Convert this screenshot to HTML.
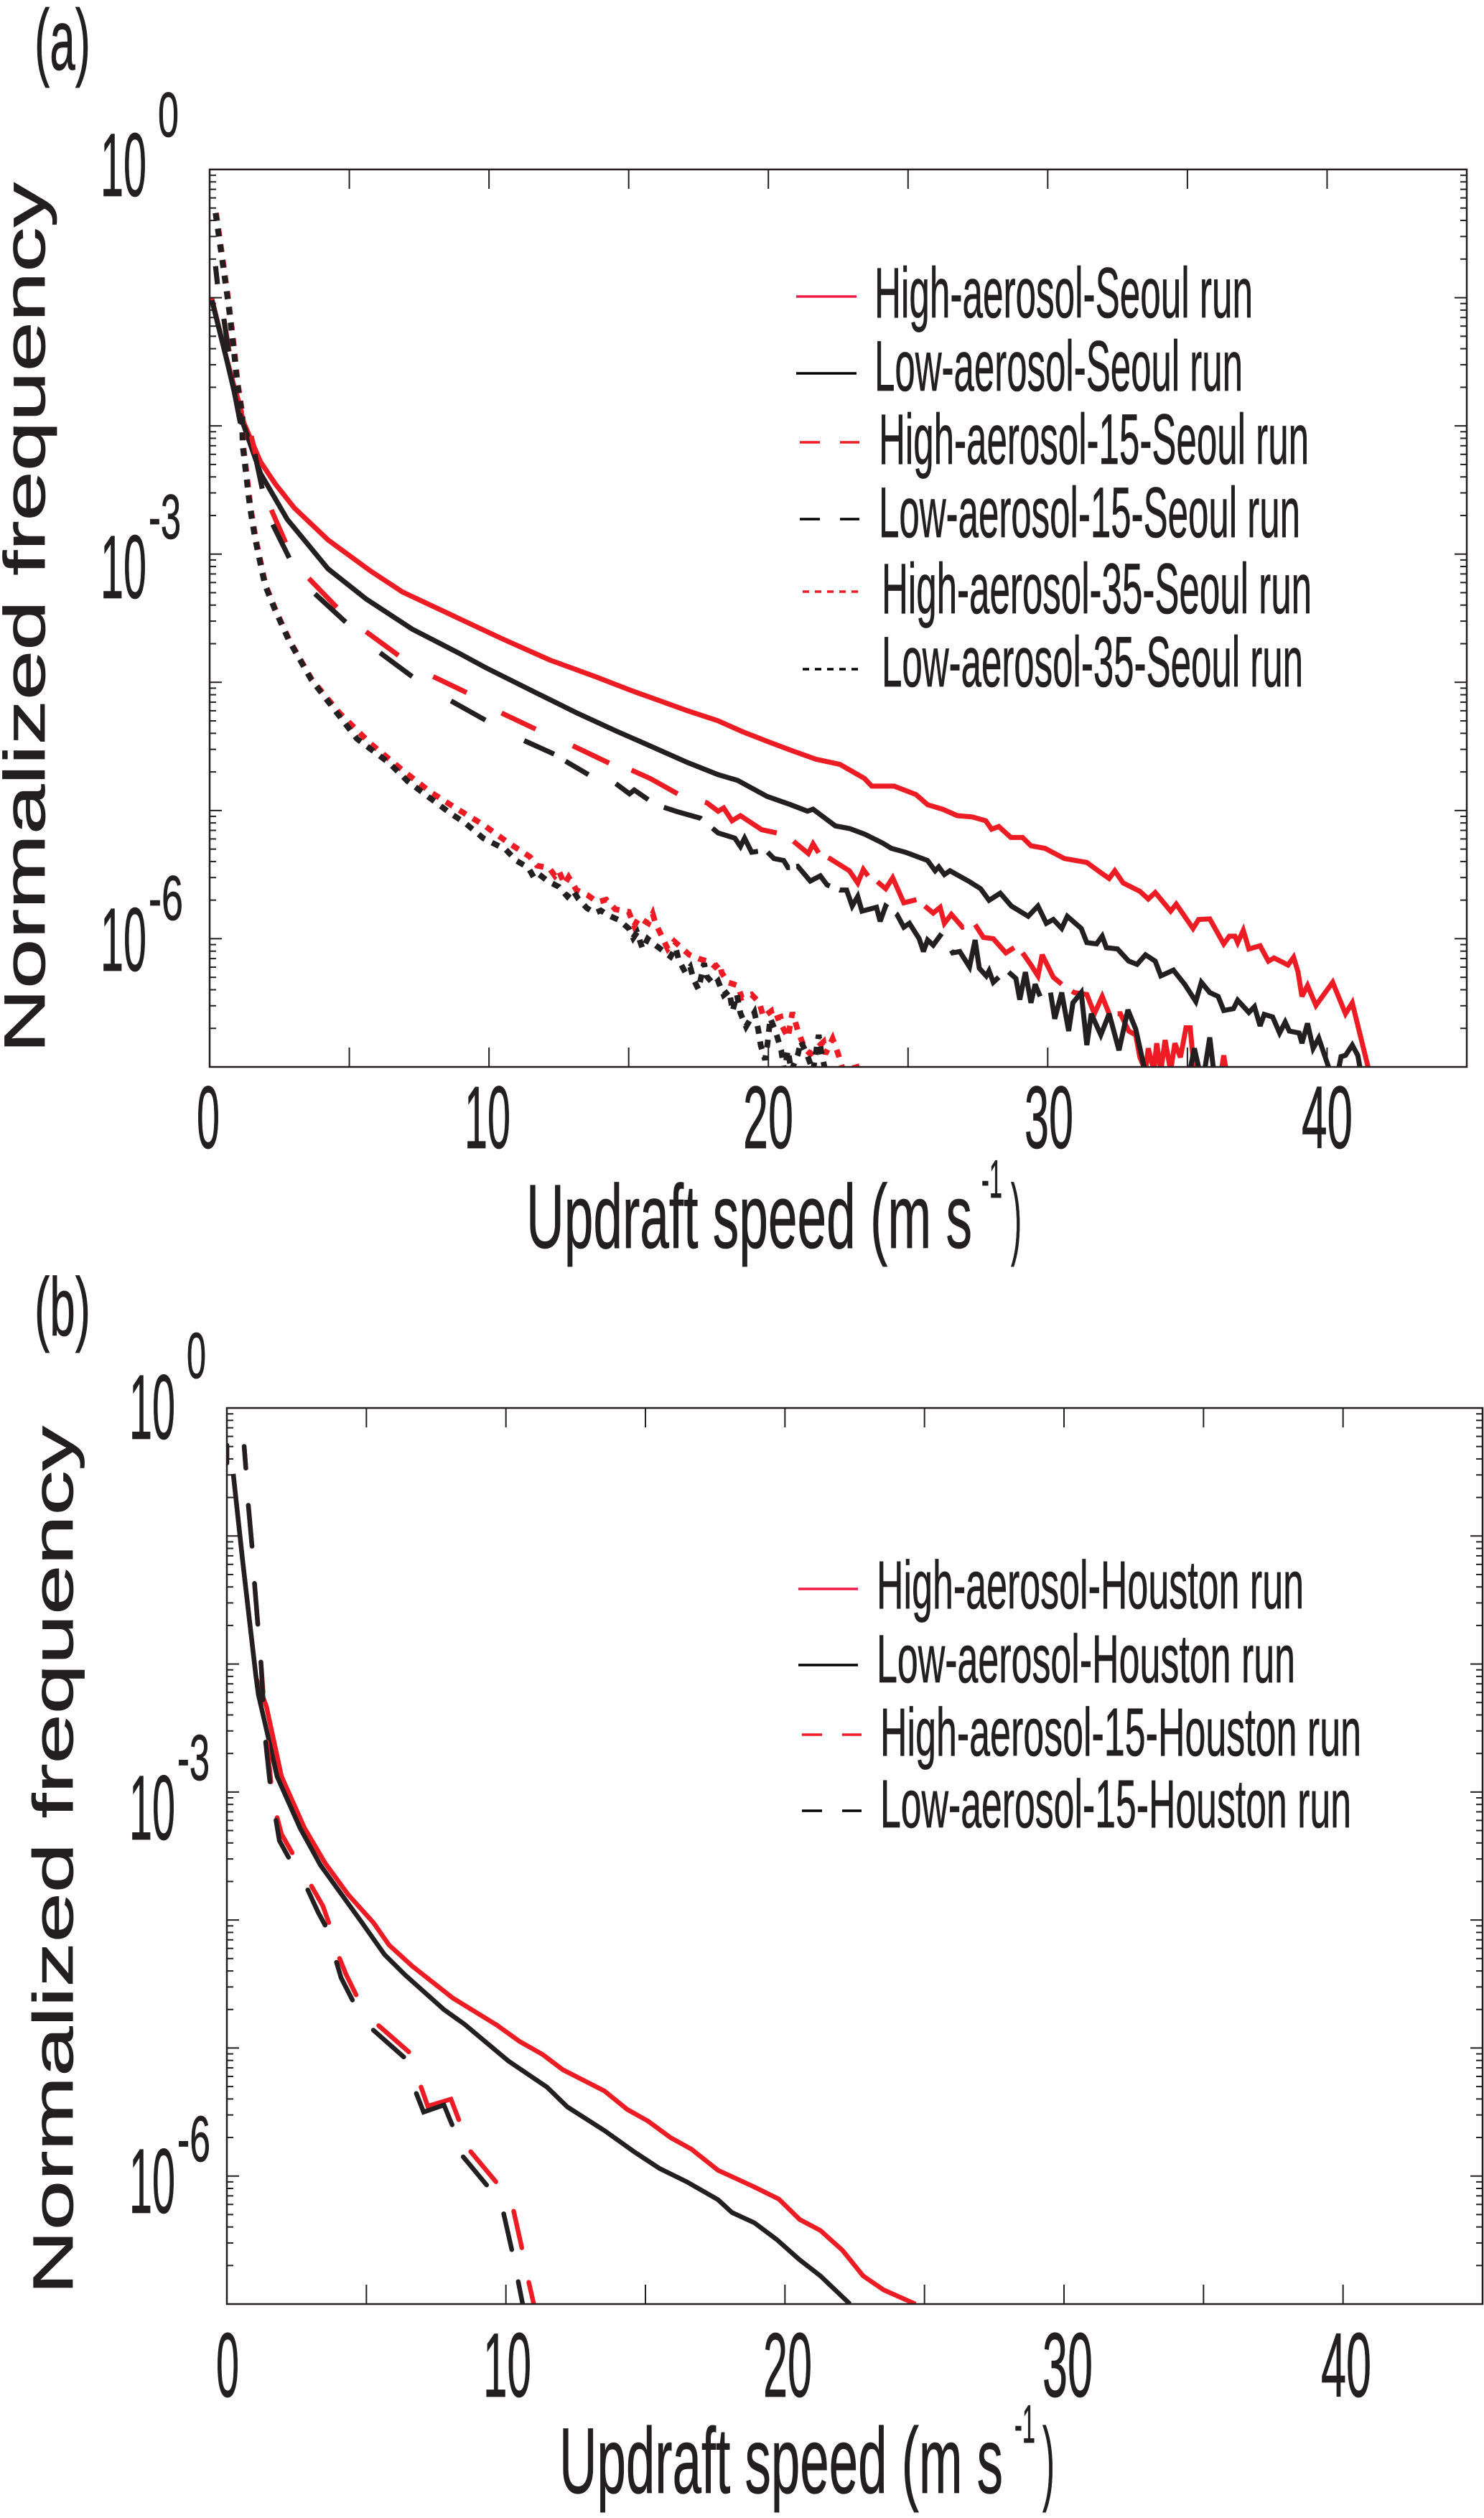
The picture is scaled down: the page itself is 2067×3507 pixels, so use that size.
<!DOCTYPE html>
<html lang="en">
<head>
<meta charset="utf-8">
<title>Updraft speed frequency distributions</title>
<style>
html,body{margin:0;padding:0;background:#fff;}
svg{display:block;}
text{font-family:"Liberation Sans",sans-serif;fill:#231F20;stroke:#231F20;stroke-width:0.8;}
</style>
</head>
<body>
<svg id="figure" xmlns="http://www.w3.org/2000/svg" width="2067" height="3507" viewBox="0 0 2067 3507">
  <rect x="0" y="0" width="2067" height="3507" fill="#fff"/>
  <defs>
    <clipPath id="clip-a"><rect x="292" y="236" width="1751" height="1250"/></clipPath>
    <clipPath id="clip-b"><rect x="316" y="1961" width="1749" height="1248"/></clipPath>
  </defs>

  <!-- Panel (a) static text -->
  <g>
    <text x="48" y="97" font-size="120" textLength="78" lengthAdjust="spacingAndGlyphs">(a)</text>
    <text transform="translate(62,1467) rotate(-90)" font-size="81" textLength="1213" lengthAdjust="spacingAndGlyphs">Normalized frequency</text>

    <g>
      <text x="140" y="273" font-size="125" textLength="64" lengthAdjust="spacingAndGlyphs">10</text>
      <text x="220" y="190" font-size="88" textLength="29" lengthAdjust="spacingAndGlyphs">0</text>
      <text x="140" y="833" font-size="125" textLength="64" lengthAdjust="spacingAndGlyphs">10</text>
      <text x="207" y="750" font-size="88" textLength="45" lengthAdjust="spacingAndGlyphs">-3</text>
      <text x="140" y="1352" font-size="125" textLength="64" lengthAdjust="spacingAndGlyphs">10</text>
      <text x="207" y="1281" font-size="88" textLength="48" lengthAdjust="spacingAndGlyphs">-6</text>
    </g>

    <g>
      <text x="274" y="1599" font-size="123" textLength="32" lengthAdjust="spacingAndGlyphs">0</text>
      <text x="647" y="1599" font-size="123" textLength="64" lengthAdjust="spacingAndGlyphs">10</text>
      <text x="1035" y="1599" font-size="123" textLength="70" lengthAdjust="spacingAndGlyphs">20</text>
      <text x="1427" y="1599" font-size="123" textLength="68" lengthAdjust="spacingAndGlyphs">30</text>
      <text x="1813" y="1599" font-size="123" textLength="71" lengthAdjust="spacingAndGlyphs">40</text>
    </g>

    <g>
      <text x="733" y="1738" font-size="126" textLength="621" lengthAdjust="spacingAndGlyphs">Updraft speed (m s</text>
      <text x="1367" y="1668" font-size="75" textLength="29" lengthAdjust="spacingAndGlyphs">-1</text>
      <text x="1408" y="1738" font-size="126" textLength="15" lengthAdjust="spacingAndGlyphs">)</text>
    </g>

    <g>
      <line x1="1109" x2="1193" y1="413" y2="413" stroke="#EF1C45" stroke-width="3.5"/>
      <text x="1218" y="442" font-size="99" textLength="527" lengthAdjust="spacingAndGlyphs">High-aerosol-Seoul run</text>
      <line x1="1109" x2="1193" y1="520" y2="520" stroke="#000" stroke-width="3.5"/>
      <text x="1218" y="544" font-size="99" textLength="513" lengthAdjust="spacingAndGlyphs">Low-aerosol-Seoul run</text>
      <line x1="1114" x2="1197" y1="616" y2="616" stroke="#ED1C24" stroke-width="3.5" stroke-dasharray="28 28"/>
      <text x="1224" y="646" font-size="99" textLength="599" lengthAdjust="spacingAndGlyphs">High-aerosol-15-Seoul run</text>
      <line x1="1114" x2="1197" y1="723" y2="723" stroke="#000" stroke-width="3.5" stroke-dasharray="28 28"/>
      <text x="1224" y="748" font-size="99" textLength="587" lengthAdjust="spacingAndGlyphs">Low-aerosol-15-Seoul run</text>
      <line x1="1118" x2="1202" y1="824" y2="824" stroke="#ED1C24" stroke-width="3.5" stroke-dasharray="9 8"/>
      <text x="1228" y="854" font-size="99" textLength="599" lengthAdjust="spacingAndGlyphs">High-aerosol-35-Seoul run</text>
      <line x1="1118" x2="1202" y1="932" y2="932" stroke="#000" stroke-width="3.5" stroke-dasharray="9 8"/>
      <text x="1228" y="956" font-size="99" textLength="587" lengthAdjust="spacingAndGlyphs">Low-aerosol-35-Seoul run</text>
    </g>
    <g id="plot-a"></g>
  </g>

  <!-- Panel (b) static text -->
  <g>
    <text x="48" y="1860" font-size="115" textLength="78" lengthAdjust="spacingAndGlyphs">(b)</text>
    <text transform="translate(101,3196) rotate(-90)" font-size="79" textLength="1210" lengthAdjust="spacingAndGlyphs">Normalized frequency</text>

    <g>
      <text x="180" y="2004" font-size="128" textLength="64" lengthAdjust="spacingAndGlyphs">10</text>
      <text x="260" y="1919" font-size="90" textLength="27" lengthAdjust="spacingAndGlyphs">0</text>
      <text x="180" y="2562" font-size="128" textLength="64" lengthAdjust="spacingAndGlyphs">10</text>
      <text x="247" y="2479" font-size="90" textLength="45" lengthAdjust="spacingAndGlyphs">-3</text>
      <text x="180" y="3082" font-size="128" textLength="64" lengthAdjust="spacingAndGlyphs">10</text>
      <text x="247" y="3010" font-size="90" textLength="46" lengthAdjust="spacingAndGlyphs">-6</text>
    </g>

    <g>
      <text x="301" y="3338" font-size="127" textLength="32" lengthAdjust="spacingAndGlyphs">0</text>
      <text x="673" y="3338" font-size="127" textLength="67" lengthAdjust="spacingAndGlyphs">10</text>
      <text x="1063" y="3338" font-size="127" textLength="68" lengthAdjust="spacingAndGlyphs">20</text>
      <text x="1452" y="3338" font-size="127" textLength="70" lengthAdjust="spacingAndGlyphs">30</text>
      <text x="1840" y="3338" font-size="127" textLength="70" lengthAdjust="spacingAndGlyphs">40</text>
    </g>

    <g>
      <text x="779" y="3472" font-size="130" textLength="618" lengthAdjust="spacingAndGlyphs">Updraft speed (m s</text>
      <text x="1413" y="3402" font-size="75" textLength="29" lengthAdjust="spacingAndGlyphs">-1</text>
      <text x="1452" y="3472" font-size="130" textLength="17" lengthAdjust="spacingAndGlyphs">)</text>
    </g>

    <g>
      <line x1="1112" x2="1195" y1="2213" y2="2213" stroke="#EF1C45" stroke-width="3.5"/>
      <text x="1221" y="2240" font-size="95" textLength="595" lengthAdjust="spacingAndGlyphs">High-aerosol-Houston run</text>
      <line x1="1112" x2="1195" y1="2319" y2="2319" stroke="#000" stroke-width="3.5"/>
      <text x="1221" y="2343" font-size="95" textLength="583" lengthAdjust="spacingAndGlyphs">Low-aerosol-Houston run</text>
      <line x1="1117" x2="1200" y1="2416" y2="2416" stroke="#ED1C24" stroke-width="3.5" stroke-dasharray="28 28"/>
      <text x="1226" y="2445" font-size="95" textLength="670" lengthAdjust="spacingAndGlyphs">High-aerosol-15-Houston run</text>
      <line x1="1117" x2="1200" y1="2522" y2="2522" stroke="#000" stroke-width="3.5" stroke-dasharray="28 28"/>
      <text x="1226" y="2545" font-size="95" textLength="656" lengthAdjust="spacingAndGlyphs">Low-aerosol-15-Houston run</text>
    </g>
    <g id="plot-b"></g>
  </g>
</svg>

<script>
// Tick values
const speedTicks = [5, 10, 15, 20, 25, 30, 35, 40];
const decadeTicks = [0, -1, -2, -3, -4, -5, -6, -7];
const minorMultipliers = [2, 3, 4, 5, 6, 7, 8, 9];

// Panel (a) series: [updraft speed m/s, log10 normalized frequency]
const seoulHigh = [[0.07,-1.0],[0.54,-1.42],[1.23,-1.98],[1.82,-2.28],[2.34,-2.45],[3.03,-2.64],[4.24,-2.89],[5.78,-3.135],[6.9,-3.295],[8.9,-3.5],[10.52,-3.665],[12.16,-3.825],[13.8,-3.955],[15.1,-4.065],[17.08,-4.22],[18.2,-4.3],[19.07,-4.385],[19.95,-4.46],[20.8,-4.53],[21.7,-4.6],[22.56,-4.64],[23.44,-4.75],[23.7,-4.81],[24.5,-4.81],[25.28,-4.875],[25.7,-4.955],[26.24,-4.99],[26.76,-5.04],[27.3,-5.05],[27.78,-5.08],[27.99,-5.146],[28.25,-5.125],[28.68,-5.21],[29.1,-5.21],[29.4,-5.275],[29.9,-5.295],[30.6,-5.375],[31.4,-5.405],[31.9,-5.485],[32.2,-5.53],[32.4,-5.47],[32.7,-5.565],[33.3,-5.63],[33.6,-5.69],[33.85,-5.64],[34.4,-5.785],[34.6,-5.73],[35.2,-5.92],[35.4,-5.85],[35.8,-5.845],[36.3,-6.04],[36.5,-5.98],[36.7,-5.98],[36.8,-6.03],[37.0,-5.935],[37.2,-6.08],[37.6,-6.055],[37.9,-6.175],[38.1,-6.15],[38.6,-6.205],[38.8,-6.145],[38.96,-6.26],[39.1,-6.45],[39.3,-6.365],[39.6,-6.52],[40.2,-6.34],[40.66,-6.585],[40.9,-6.5],[41.5,-7.03]];
const seoulLow = [[0.08,-1.02],[0.54,-1.42],[1.05,-1.89],[1.82,-2.37],[2.78,-2.73],[4.24,-3.115],[5.6,-3.35],[7.25,-3.585],[8.9,-3.77],[9.87,-3.885],[11.67,-4.08],[13.15,-4.24],[14.6,-4.385],[15.6,-4.48],[17.1,-4.625],[18.2,-4.72],[18.9,-4.765],[19.95,-4.89],[20.8,-4.955],[21.4,-5.005],[21.6,-4.99],[22.4,-5.12],[22.9,-5.14],[23.45,-5.185],[24.1,-5.255],[24.4,-5.295],[24.9,-5.325],[25.7,-5.39],[25.97,-5.47],[26.1,-5.44],[26.3,-5.5],[26.5,-5.47],[27.2,-5.555],[27.6,-5.61],[27.9,-5.7],[28.3,-5.645],[28.7,-5.745],[29.3,-5.825],[29.65,-5.745],[29.95,-5.88],[30.2,-5.85],[30.5,-5.92],[30.7,-5.825],[31.2,-5.92],[31.4,-6.03],[31.75,-6.04],[31.95,-5.98],[32.1,-6.07],[32.5,-6.08],[32.9,-6.175],[33.2,-6.2],[33.5,-6.125],[33.85,-6.175],[34.05,-6.29],[34.5,-6.245],[34.9,-6.355],[35.3,-6.49],[35.5,-6.34],[35.8,-6.42],[36.1,-6.45],[36.3,-6.56],[36.65,-6.545],[36.8,-6.48],[37.2,-6.575],[37.4,-6.53],[37.6,-6.68],[37.75,-6.59],[38.05,-6.61],[38.3,-6.735],[38.5,-6.65],[38.65,-6.72],[39.0,-6.735],[39.1,-6.815],[39.3,-6.66],[39.5,-6.855],[39.7,-6.775],[40.1,-7.03],[40.4,-7.03],[40.5,-6.92],[40.66,-6.91],[40.9,-6.83],[41.1,-6.91],[41.2,-7.03]];
const seoulHigh15 = [[0.21,-0.755],[0.28,-0.895],[0.51,-1.165],[0.7,-1.42],[0.9,-1.70],[1.15,-1.9],[1.49,-2.08],[1.75,-2.32],[2.21,-2.655],[2.72,-2.91],[3.55,-3.19],[4.55,-3.415],[5.6,-3.605],[6.76,-3.79],[8.0,-3.955],[9.2,-4.08],[10.45,-4.24],[11.67,-4.365],[13,-4.495],[14.3,-4.63],[15.1,-4.685],[15.77,-4.75],[16.75,-4.87],[17.8,-4.94],[18.2,-5.005],[18.4,-4.98],[18.7,-5.08],[19.0,-5.04],[19.76,-5.15],[20.3,-5.175],[20.9,-5.24],[21.43,-5.335],[21.6,-5.26],[21.8,-5.33],[22.2,-5.375],[22.9,-5.47],[23.2,-5.565],[23.4,-5.46],[23.6,-5.52],[23.9,-5.555],[24.2,-5.61],[24.45,-5.525],[24.85,-5.72],[25.3,-5.695],[25.6,-5.745],[25.9,-5.8],[26.15,-5.755],[26.3,-5.88],[26.55,-5.81],[26.95,-5.91],[27.4,-5.89],[27.7,-5.99],[28.05,-6.0],[28.5,-6.11],[28.8,-6.07],[29.1,-6.11],[29.4,-6.205],[29.65,-6.29],[29.8,-6.125],[30.2,-6.3],[30.5,-6.355],[30.95,-6.42],[31.4,-6.435],[31.67,-6.585],[31.95,-6.45],[32.2,-6.585],[32.6,-6.585],[32.9,-6.72],[33.15,-6.75],[33.3,-6.925],[33.5,-7.03],[33.6,-6.855],[33.8,-7.03],[33.9,-6.815],[34.05,-7.03],[34.2,-6.79],[34.4,-7.03],[34.55,-6.815],[34.75,-6.925],[34.95,-6.695],[35.1,-6.695],[35.25,-7.05],[36.2,-7.05],[36.3,-6.91],[36.4,-7.05]];
const seoulLow15 = [[0.21,-0.755],[0.28,-0.895],[0.51,-1.165],[0.67,-1.42],[0.85,-1.70],[1.1,-1.98],[1.62,-2.22],[1.88,-2.49],[2.26,-2.77],[2.6,-2.92],[2.85,-3.03],[3.77,-3.31],[4.87,-3.53],[6.1,-3.77],[7.25,-3.955],[8.64,-4.145],[9.87,-4.295],[11.26,-4.455],[12.33,-4.56],[12.74,-4.615],[13.56,-4.72],[14.54,-4.79],[15.03,-4.87],[15.2,-4.84],[15.7,-4.915],[16.26,-4.975],[16.75,-5.01],[17.57,-5.06],[18.2,-5.175],[18.8,-5.215],[19.0,-5.28],[19.15,-5.215],[19.4,-5.325],[19.9,-5.31],[20.2,-5.375],[20.55,-5.39],[20.7,-5.445],[21.05,-5.435],[21.5,-5.55],[21.86,-5.51],[22.1,-5.58],[22.56,-5.62],[22.8,-5.62],[23,-5.745],[23.2,-5.67],[23.35,-5.785],[23.87,-5.755],[24,-5.865],[24.2,-5.745],[24.6,-5.81],[24.85,-5.91],[25.05,-5.88],[25.4,-6.0],[25.55,-6.1],[25.7,-6.01],[25.9,-6.05],[26.2,-5.96],[26.6,-6.11],[26.85,-6.1],[27.2,-6.22],[27.4,-6.01],[27.55,-6.23],[27.8,-6.29],[27.9,-6.25],[28.05,-6.34],[28.25,-6.3],[28.6,-6.26],[28.86,-6.31],[29,-6.475],[29.2,-6.26],[29.4,-6.5],[29.55,-6.355],[29.73,-6.45],[30.1,-6.42],[30.25,-6.625],[30.5,-6.42],[30.75,-6.72],[30.9,-6.5],[31.2,-6.42],[31.4,-6.83],[31.56,-6.585],[31.9,-6.75],[32.2,-6.585],[32.55,-6.87],[32.87,-6.555],[33.15,-6.705],[33.5,-7.05],[35.07,-7.05],[35.25,-6.855],[35.45,-7.05],[35.6,-7.05],[35.8,-6.77],[35.95,-7.05]];
const seoulHigh35 = [[0.23,-0.34],[0.46,-0.69],[0.69,-1.05],[0.89,-1.42],[1.0,-1.66],[1.18,-1.915],[1.2,-2.15],[1.33,-2.39],[1.46,-2.63],[1.64,-2.87],[1.87,-3.11],[2.0,-3.24],[2.35,-3.43],[2.85,-3.67],[3.66,-3.98],[4.65,-4.24],[5.77,-4.48],[6.9,-4.685],[7.9,-4.855],[8.88,-4.99],[9.79,-5.11],[10.68,-5.25],[11.46,-5.36],[11.72,-5.43],[12.16,-5.45],[12.36,-5.51],[12.5,-5.47],[12.7,-5.575],[12.85,-5.52],[13.13,-5.62],[13.53,-5.66],[13.88,-5.715],[14.2,-5.695],[14.52,-5.77],[15,-5.79],[15.2,-5.9],[15.37,-5.835],[15.7,-5.88],[15.86,-5.805],[15.96,-5.88],[16.14,-5.96],[16.4,-6.08],[16.63,-6.02],[17.17,-6.125],[17.57,-6.16],[17.9,-6.18],[18.1,-6.22],[18.26,-6.19],[18.33,-6.265],[18.55,-6.34],[18.9,-6.365],[19.05,-6.46],[19.4,-6.435],[19.68,-6.5],[19.82,-6.61],[20.1,-6.565],[20.17,-6.63],[20.43,-6.61],[20.5,-6.685],[20.7,-6.77],[20.86,-6.575],[21.06,-6.72],[21.3,-6.855],[21.5,-6.9],[21.97,-6.805],[22.04,-6.9],[22.3,-6.78],[22.5,-6.9],[22.68,-7.03],[23.17,-7.0],[23.25,-7.05]];
const seoulLow35 = [[0.21,-0.34],[0.44,-0.69],[0.67,-1.05],[0.87,-1.42],[0.98,-1.66],[1.16,-1.915],[1.18,-2.15],[1.31,-2.39],[1.44,-2.63],[1.62,-2.87],[1.85,-3.11],[1.98,-3.24],[2.33,-3.43],[2.83,-3.67],[3.64,-3.98],[4.63,-4.26],[5.27,-4.44],[6.43,-4.63],[7.08,-4.77],[7.9,-4.905],[8.64,-5.025],[9.13,-5.095],[9.79,-5.215],[10.6,-5.305],[10.97,-5.39],[11.4,-5.445],[11.6,-5.52],[11.75,-5.49],[12.1,-5.55],[12.5,-5.595],[12.8,-5.67],[13,-5.62],[13.2,-5.69],[13.5,-5.76],[13.78,-5.8],[14.0,-5.78],[14.3,-5.82],[14.66,-5.855],[15,-5.92],[15.16,-5.995],[15.3,-5.95],[15.5,-6.08],[15.68,-6.0],[15.96,-6.05],[16.29,-6.105],[16.5,-6.14],[16.68,-6.07],[16.8,-6.17],[17.03,-6.265],[17.2,-6.22],[17.33,-6.32],[17.5,-6.395],[17.7,-6.19],[17.8,-6.295],[18.06,-6.36],[18.2,-6.33],[18.4,-6.44],[18.6,-6.405],[18.72,-6.565],[18.87,-6.435],[19,-6.58],[19.2,-6.685],[19.5,-6.575],[19.63,-6.7],[19.73,-6.835],[19.88,-6.945],[19.97,-6.815],[20.07,-6.62],[20.27,-6.73],[20.46,-6.87],[20.57,-7.03],[20.7,-6.87],[20.82,-7.03],[21.06,-6.9],[21.16,-6.8],[21.36,-6.89],[21.6,-7.03],[21.8,-6.75],[21.9,-6.89],[22.04,-7.03],[22.6,-7.05]];

// Speed intervals where the dashed Seoul lines are not inked
const seoulHigh15Gaps = [[0.28,0.51],[0.7,0.9],[1.15,1.49],[1.75,2.21],[2.72,3.55],[4.55,5.6],[6.76,8.0],[9.2,10.45],[11.67,13],[14.3,15.1],[16.75,17.73],[20.3,20.9],[21.8,22.14],[23.57,23.9],[25.3,25.6],[27.0,27.4],[28.8,29.1],[30.5,30.87],[32.25,32.5]];
const seoulLow15Gaps = [[0.28,0.51],[0.67,0.85],[1.1,1.62],[1.88,2.26],[2.85,3.77],[4.87,6.1],[7.25,8.64],[9.87,11.26],[12.33,12.74],[13.56,14.54],[15.7,16.26],[17.6,18.0],[19.63,19.97],[20.77,21.0],[22.2,22.55],[24.27,24.57],[26.2,26.55],[28.25,28.6],[29.73,30.1]];

// Panel (b) series: [updraft speed m/s, log10 normalized frequency]
const houstonHigh = [[0.23,-0.515],[0.57,-1.205],[0.81,-1.66],[1.05,-2.11],[1.42,-2.335],[1.96,-2.88],[2.78,-3.28],[3.52,-3.555],[4.34,-3.8],[5.25,-4.02],[5.81,-4.195],[6.64,-4.36],[8.1,-4.61],[9.67,-4.82],[10.5,-4.95],[11.31,-5.05],[12.04,-5.17],[13.53,-5.335],[14.35,-5.48],[15.09,-5.57],[15.9,-5.7],[16.65,-5.79],[17.6,-5.955],[18.1,-6.005],[18.9,-6.085],[19.78,-6.18],[20.53,-6.34],[21.27,-6.425],[22.06,-6.58],[22.8,-6.78],[23.54,-6.89],[24.68,-7.0]];
const houstonLow = [[0.23,-0.515],[0.57,-1.205],[0.81,-1.66],[1.05,-2.11],[1.13,-2.24],[1.47,-2.56],[1.8,-2.88],[2.62,-3.28],[3.35,-3.57],[4.84,-4.02],[5.65,-4.27],[6.39,-4.43],[7.78,-4.7],[8.52,-4.815],[10.08,-5.1],[11.47,-5.305],[12.2,-5.46],[13.53,-5.645],[14.59,-5.81],[15.5,-5.94],[16.48,-6.045],[17.6,-6.185],[18.1,-6.285],[18.9,-6.365],[19.7,-6.495],[20.5,-6.65],[21.27,-6.78],[22.33,-7.0]];
const houstonHigh15 = [[0.0,-0.29],[0.0,-0.43],[0.62,-0.3],[0.68,-0.47],[0.77,-0.76],[0.9,-1.08],[0.99,-1.37],[1.11,-1.69],[1.22,-1.985],[1.43,-2.61],[1.58,-2.92],[1.8,-3.2],[1.96,-3.33],[2.34,-3.475],[3.03,-3.735],[3.44,-3.89],[3.65,-4.02],[4.04,-4.3],[4.26,-4.42],[4.63,-4.585],[5.44,-4.825],[6.52,-5.03],[6.96,-5.305],[7.2,-5.455],[8.03,-5.4],[8.31,-5.56],[8.74,-5.81],[9.64,-6.045],[10.28,-6.275],[10.57,-6.56],[10.82,-6.83],[11.0,-7.0]];
const houstonLow15 = [[0.0,-0.29],[0.0,-0.43],[0.62,-0.3],[0.68,-0.47],[0.77,-0.76],[0.9,-1.08],[0.99,-1.37],[1.11,-1.69],[1.22,-1.985],[1.39,-2.61],[1.54,-2.92],[1.76,-3.22],[1.88,-3.38],[2.21,-3.51],[2.9,-3.765],[3.27,-3.94],[3.52,-4.04],[3.93,-4.33],[4.09,-4.45],[4.5,-4.625],[5.25,-4.86],[6.34,-5.07],[6.79,-5.355],[7.05,-5.5],[7.78,-5.445],[8.07,-5.6],[8.47,-5.85],[9.31,-6.07],[9.92,-6.295],[10.21,-6.575],[10.44,-6.825],[10.6,-7.0]];

// Speed intervals where the dashed Houston lines are not inked
const houstonHigh15Gaps = [[0,0.62],[0.68,0.77],[0.9,0.99],[1.11,1.22],[1.3,1.43],[1.58,1.8],[2.34,3.03],[3.65,4.04],[4.63,5.44],[6.52,6.96],[8.31,8.74],[9.64,10.28],[10.57,10.82]];
const houstonLow15Gaps = [[0,0.62],[0.68,0.77],[0.9,0.99],[1.11,1.22],[1.3,1.39],[1.54,1.76],[2.21,2.9],[3.52,3.93],[4.5,5.25],[6.34,6.79],[8.07,8.47],[9.31,9.92],[10.21,10.44]];

const SVG_NS = 'http://www.w3.org/2000/svg';
const INK = '#231F20';
const RED = '#ED1C24';

function makeScales(left, right, top, bottom) {
  return {
    x: function (speed) { return left + (speed / 45) * (right - left); },
    y: function (exponent) { return top + (-exponent / 7) * (bottom - top); }
  };
}

function drawFrame(plot, name, left, right, top, bottom, scales) {
  const frame = document.createElementNS(SVG_NS, 'rect');
  
  
  frame.setAttribute('x', left);
  frame.setAttribute('y', top);
  frame.setAttribute('width', right - left);
  frame.setAttribute('height', bottom - top);
  frame.setAttribute('fill', 'none');
  frame.setAttribute('stroke', INK);
  frame.setAttribute('stroke-width', '2.5');
  plot.appendChild(frame);

  const addTick = function (tickName, x1, y1, x2, y2) {
    const tick = document.createElementNS(SVG_NS, 'line');
    
    
    tick.setAttribute('x1', x1);
    tick.setAttribute('y1', y1);
    tick.setAttribute('x2', x2);
    tick.setAttribute('y2', y2);
    tick.setAttribute('stroke', INK);
    tick.setAttribute('stroke-width', '2');
    plot.appendChild(tick);
  };

  speedTicks.forEach(function (speed) {
    const px = scales.x(speed);
    addTick('x-tick-top-' + name, px, top, px, top + 27);
    addTick('x-tick-bottom-' + name, px, bottom, px, bottom - 27);
  });

  decadeTicks.forEach(function (decade) {
    const py = scales.y(decade);
    addTick('y-tick-major-left-' + name, left, py, left + 17, py);
    addTick('y-tick-major-right-' + name, right, py, right - 17, py);
    if (decade === 0) { return; }
    minorMultipliers.forEach(function (m) {
      const minorY = scales.y(decade + Math.log10(m));
      addTick('y-tick-minor-left-' + name, left, minorY, left + 9, minorY);
      addTick('y-tick-minor-right-' + name, right, minorY, right - 9, minorY);
    });
  });
}

// Builds path data from a series, lifting the pen inside any gap speed interval.
function buildPath(points, gaps, scales) {
  let d = '';
  let penDown = false;
  const inGap = function (speed) {
    return gaps.some(function (g) { return speed > g[0] && speed < g[1]; });
  };
  const px = function (p) { return scales.x(p[0]).toFixed(1) + ' ' + scales.y(p[1]).toFixed(1); };
  for (let i = 0; i < points.length - 1; i++) {
    const a = points[i];
    const b = points[i + 1];
    const cuts = [0, 1];
    gaps.forEach(function (g) {
      g.forEach(function (edge) {
        if (b[0] !== a[0]) {
          const t = (edge - a[0]) / (b[0] - a[0]);
          if (t > 0 && t < 1) { cuts.push(t); }
        }
      });
    });
    cuts.sort(function (m, n) { return m - n; });
    for (let c = 0; c < cuts.length - 1; c++) {
      const t0 = cuts[c];
      const t1 = cuts[c + 1];
      const mid = a[0] + (b[0] - a[0]) * (t0 + t1) / 2;
      if (inGap(mid)) { penDown = false; continue; }
      const p0 = [a[0] + (b[0] - a[0]) * t0, a[1] + (b[1] - a[1]) * t0];
      const p1 = [a[0] + (b[0] - a[0]) * t1, a[1] + (b[1] - a[1]) * t1];
      if (!penDown) { d += 'M' + px(p0) + ' '; penDown = true; }
      d += 'L' + px(p1) + ' ';
    }
  }
  return d;
}

function drawSeries(plot, seriesName, points, scales, clipId, color, width, dash, gaps, cap) {
  const line = document.createElementNS(SVG_NS, 'path');
  
  
  line.setAttribute('d', buildPath(points, gaps || [], scales));
  line.setAttribute('fill', 'none');
  line.setAttribute('stroke', color);
  line.setAttribute('stroke-width', width);
  line.setAttribute('stroke-linejoin', 'miter');
  line.setAttribute('stroke-miterlimit', '3');
  line.setAttribute('stroke-linecap', cap || 'butt');
  if (dash) { line.setAttribute('stroke-dasharray', dash); }
  line.setAttribute('clip-path', 'url(#' + clipId + ')');
  plot.appendChild(line);
}

const plotA = document.getElementById('plot-a');
const scalesA = makeScales(292, 2043, 236, 1486);
drawSeries(plotA, 'line-high-aerosol-seoul', seoulHigh, scalesA, 'clip-a', RED, 7);
drawSeries(plotA, 'line-low-aerosol-seoul', seoulLow, scalesA, 'clip-a', INK, 7);
drawSeries(plotA, 'line-high-aerosol-15-seoul', seoulHigh15, scalesA, 'clip-a', RED, 7, null, seoulHigh15Gaps);
drawSeries(plotA, 'line-low-aerosol-15-seoul', seoulLow15, scalesA, 'clip-a', INK, 7, null, seoulLow15Gaps);
drawSeries(plotA, 'line-high-aerosol-35-seoul', seoulHigh35, scalesA, 'clip-a', RED, 8, '11 11');
drawSeries(plotA, 'line-low-aerosol-35-seoul', seoulLow35, scalesA, 'clip-a', INK, 8, '11 11');
drawFrame(plotA, 'a', 292, 2043, 236, 1486, scalesA);

const plotB = document.getElementById('plot-b');
const scalesB = makeScales(316, 2065, 1961, 3209);
drawSeries(plotB, 'line-high-aerosol-houston', houstonHigh, scalesB, 'clip-b', RED, 6.5);
drawSeries(plotB, 'line-low-aerosol-houston', houstonLow, scalesB, 'clip-b', INK, 6.5);
drawSeries(plotB, 'line-high-aerosol-15-houston', houstonHigh15, scalesB, 'clip-b', RED, 6.5, null, houstonHigh15Gaps, 'round');
drawSeries(plotB, 'line-low-aerosol-15-houston', houstonLow15, scalesB, 'clip-b', INK, 6.5, null, houstonLow15Gaps, 'round');
drawFrame(plotB, 'b', 316, 2065, 1961, 3209, scalesB);
</script>
</body>
</html>
